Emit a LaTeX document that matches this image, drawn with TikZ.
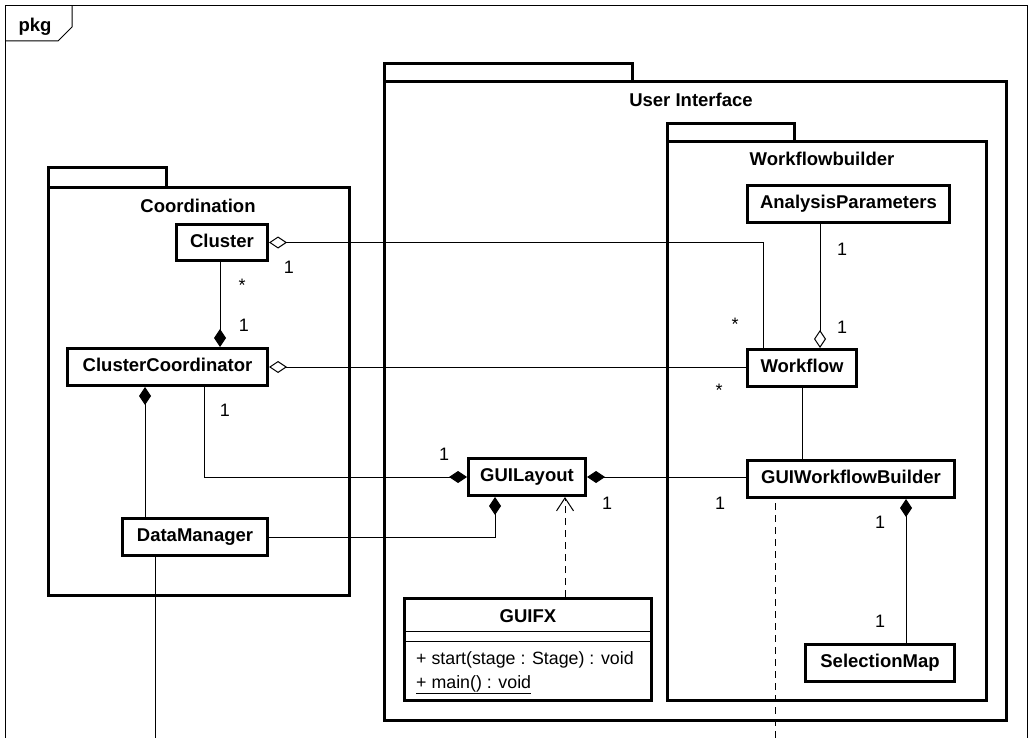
\documentclass[tikz,border=0pt]{standalone}
\usepackage{fontspec}
\setmainfont{Liberation Sans}
\usetikzlibrary{arrows.meta}
\begin{document}
\begin{tikzpicture}[x=1pt,y=-1pt,
  txt/.style={font=\fontsize{17.8}{20}\selectfont},
  boldtxt/.style={font=\bfseries\fontsize{18.5}{21}\selectfont},
  cls/.style={draw, line width=3pt, boldtxt, inner sep=0pt, text height=13pt, text depth=3.5pt},
  pkgline/.style={line width=3pt},
  mult/.style={font=\fontsize{18}{20}\selectfont, inner sep=0pt, anchor=base},
  link/.style={line width=1pt},
  agg/.style={link, {Diamond[open,length=18pt,width=12pt]}-},
  aggend/.style={link, -{Diamond[open,length=18pt,width=12pt]}},
  comp/.style={link, {Diamond[length=18pt,width=12pt]}-},
  compend/.style={link, -{Diamond[length=18pt,width=12pt]}},
  dep/.style={link, dash pattern=on 7pt off 5pt, -{Straight Barb[length=13pt,width=17pt]}},
]
\fill[white] (0,0) rectangle (1033,738);
\useasboundingbox (0,0) rectangle (1033,738);

% diagram frame with its name tab
\draw[line width=1pt] (5.5,738) -- (5.5,5.5) -- (1027.5,5.5) -- (1027.5,738);
\draw[line width=1pt] (5.5,41) -- (58,41) -- (72,27) -- (72,5.5);
\node[boldtxt, inner sep=0pt, anchor=base] (pkgname) at (35,32) {pkg};

% package Coordination
\draw[pkgline] (48.5,186) -- (48.5,167.5) -- (166.5,167.5) -- (166.5,186);
\draw[pkgline] (48.5,187.5) rectangle (349.5,595.5);
\node[boldtxt, inner sep=0pt, anchor=base] (coordname) at (198,212) {Coordination};

% package User Interface
\draw[pkgline] (384.5,80) -- (384.5,63.5) -- (632.5,63.5) -- (632.5,80);
\draw[pkgline] (384.5,81.5) rectangle (1006.5,720.5);
\node[boldtxt, inner sep=0pt, anchor=base] (uiname) at (691,107) {User Interface};

% package Workflowbuilder
\draw[pkgline] (667.5,140) -- (667.5,123.5) -- (794.5,123.5) -- (794.5,140);
\draw[pkgline] (667.5,141.5) rectangle (986.5,700.5);
\node[boldtxt, inner sep=0pt, anchor=base] (wbname) at (822,166) {Workflowbuilder};

% classes
\node[cls, minimum width=91pt,  minimum height=36pt] (cluster)   at (222,242.5) {Cluster};
\node[cls, minimum width=200pt, minimum height=37pt] (cc)        at (167.5,367) {ClusterCoordinator};
\node[cls, minimum width=145pt, minimum height=37pt] (dm)        at (195,537)   {DataManager};
\node[cls, minimum width=117pt, minimum height=37pt] (guilayout) at (527,477)   {GUILayout};
\node[cls, minimum width=202pt, minimum height=37pt] (ap)        at (848.5,204) {AnalysisParameters};
\node[cls, minimum width=109pt, minimum height=37pt] (workflow)  at (802,368)   {Workflow};
\node[cls, minimum width=207pt, minimum height=37pt] (gwb)       at (851,479)   {GUIWorkflowBuilder};
\node[cls, minimum width=149pt, minimum height=37pt] (sm)        at (880,663)   {SelectionMap};

% class GUIFX with its compartments
\node[draw, line width=3pt, minimum width=247pt, minimum height=102pt, inner sep=0pt] (guifx) at (528,649.5) {};
\node[boldtxt, inner sep=0pt, anchor=base] (guifxname) at (528,622) {GUIFX};
\draw[line width=1pt] ([yshift=-34pt]guifx.north west) -- ([yshift=-34pt]guifx.north east);
\draw[line width=1pt] ([yshift=-44pt]guifx.north west) -- ([yshift=-44pt]guifx.north east);
\node[txt, inner sep=0pt, anchor=base west] (mstart) at (416,664) {+ start(stage : Stage) : void};
\node[txt, inner sep=0pt, anchor=base west] (mmain)  at (416,688) {\underline{+ main() : void}};

% attachment points on the class borders
\coordinate (wfleft)  at ([xshift=17pt]workflow.north west);
\coordinate (clcc)    at ([xshift=-2pt]cluster.south);
\coordinate (ccdm)    at ([xshift=-22.5pt]cc.south);
\coordinate (ccgl)    at ([xshift=36.5pt]cc.south);
\coordinate (gldm)    at ([xshift=-32pt]guilayout.south);
\coordinate (fxdep)   at ([xshift=37pt]guifx.north);
\coordinate (apwf)    at ([xshift=-28.5pt]ap.south);
\coordinate (gwbsm)   at ([xshift=55pt]gwb.south);
\coordinate (gwbdash) at ([xshift=-76pt,yshift=-4pt]gwb.south);
\coordinate (gwbexit) at (775,738);
\coordinate (dmdown)  at ([xshift=-40pt]dm.south);
\coordinate (dmexit)  at (155,738);

% associations
\draw[agg] (cluster.east) -| (wfleft);
\draw[agg] (cc.east) -- (cc.east -| workflow.west);
\draw[compend] (clcc) -- (clcc |- cc.north);
\draw[comp] (ccdm) -- (ccdm |- dm.north);
\draw[compend] (ccgl) |- (guilayout.west);
\draw[compend] (dm.east) -| (gldm);
\draw[comp] (guilayout.east) -- (guilayout.east -| gwb.west);
\draw[dep] (fxdep) -- (fxdep |- guilayout.south);
\draw[aggend] (apwf) -- (apwf |- workflow.north);
\draw[link] (workflow.south) -- (workflow.south |- gwb.north);
\draw[comp] (gwbsm) -- (gwbsm |- sm.north);
\draw[link, dash pattern=on 7pt off 5pt] (gwbdash) -- (gwbexit);
\draw[link] (dmdown) -- (dmexit);

% multiplicities
\node[mult] (m1)  at (289,273) {1};
\node[mult] (m2)  at (242,291) {*};
\node[mult] (m3)  at (244,331) {1};
\node[mult] (m4)  at (735,330) {*};
\node[mult] (m5)  at (719,396) {*};
\node[mult] (m6)  at (842,255) {1};
\node[mult] (m7)  at (842,333) {1};
\node[mult] (m8)  at (225,416) {1};
\node[mult] (m9)  at (444,460) {1};
\node[mult] (m10) at (607,509) {1};
\node[mult] (m11) at (720,509) {1};
\node[mult] (m12) at (880,528) {1};
\node[mult] (m13) at (880,627) {1};
\end{tikzpicture}
\end{document}
